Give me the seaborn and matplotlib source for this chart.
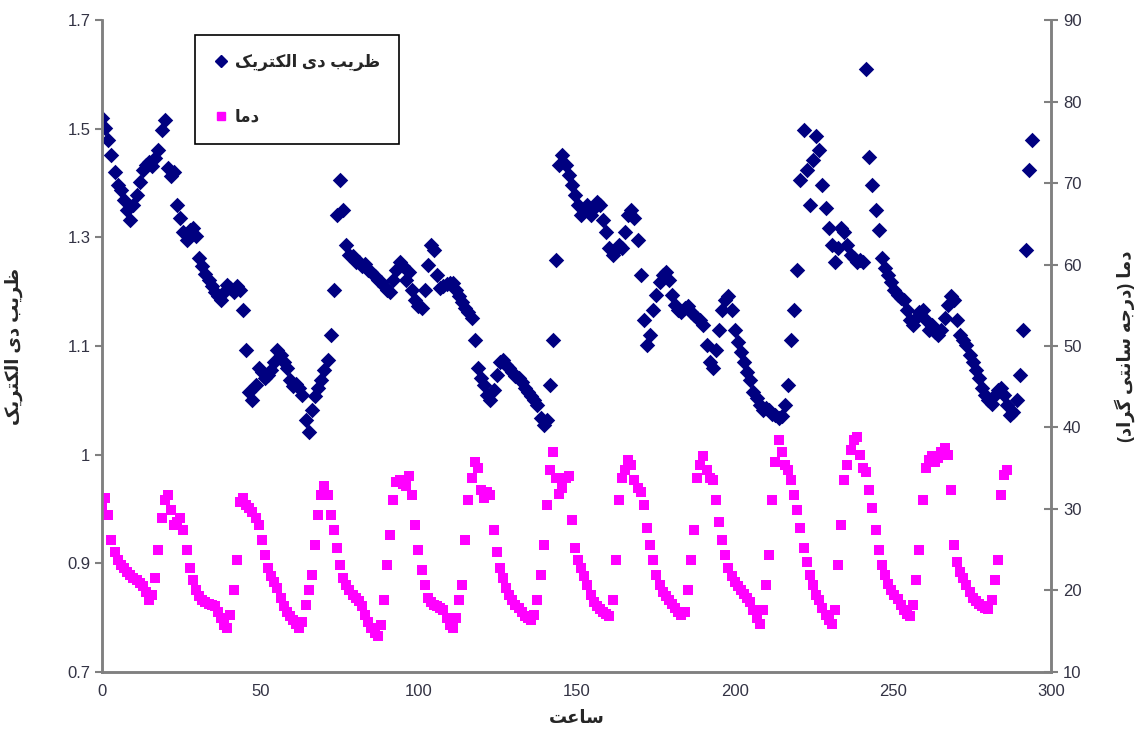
import numpy as np
import pandas as pd
import matplotlib
matplotlib.use('Agg')
import matplotlib.pyplot as plt
from matplotlib.lines import Line2D
import seaborn as sns

# readings taken roughly every hour (0.99 h between samples)
STEP_H = 0.99

# dielectric coefficient, one reading per sample
dielectric = [
    1.550, 1.534, 1.516, 1.493, 1.467, 1.447, 1.439, 1.424, 1.409, 1.393,
    1.416, 1.432, 1.452, 1.470, 1.478, 1.482, 1.476, 1.488, 1.501, 1.531,
    1.547, 1.473, 1.461, 1.467, 1.416, 1.396, 1.375, 1.363, 1.378, 1.381,
    1.369, 1.335, 1.323, 1.310, 1.301, 1.292, 1.283, 1.277, 1.271, 1.283,
    1.294, 1.289, 1.283, 1.292, 1.286, 1.255, 1.194, 1.129, 1.117, 1.140,
    1.166, 1.160, 1.151, 1.156, 1.163, 1.175, 1.194, 1.186, 1.175, 1.166,
    1.148, 1.139, 1.142, 1.136, 1.125, 1.087, 1.068, 1.102, 1.123, 1.136,
    1.148, 1.163, 1.179, 1.217, 1.286, 1.401, 1.455, 1.409, 1.355, 1.340,
    1.338, 1.329, 1.329, 1.323, 1.326, 1.317, 1.314, 1.307, 1.301, 1.298,
    1.292, 1.286, 1.283, 1.301, 1.317, 1.329, 1.323, 1.301, 1.314, 1.286,
    1.271, 1.261, 1.258, 1.286, 1.324, 1.355, 1.347, 1.309, 1.289, 1.292,
    1.295, 1.297, 1.297, 1.286, 1.277, 1.268, 1.258, 1.252, 1.243, 1.209,
    1.166, 1.151, 1.140, 1.125, 1.117, 1.133, 1.156, 1.175, 1.179, 1.171,
    1.166, 1.160, 1.154, 1.151, 1.145, 1.136, 1.129, 1.123, 1.117, 1.110,
    1.090, 1.079, 1.087, 1.140, 1.209, 1.332, 1.478, 1.493, 1.478, 1.462,
    1.447, 1.432, 1.416, 1.401, 1.409, 1.416, 1.401, 1.412, 1.421, 1.416,
    1.393, 1.375, 1.350, 1.340, 1.347, 1.355, 1.350, 1.375, 1.401, 1.409,
    1.396, 1.363, 1.309, 1.240, 1.202, 1.217, 1.255, 1.278, 1.298, 1.309,
    1.314, 1.301, 1.278, 1.263, 1.255, 1.252, 1.258, 1.261, 1.252, 1.248,
    1.243, 1.240, 1.232, 1.202, 1.175, 1.166, 1.194, 1.225, 1.255, 1.271,
    1.277, 1.255, 1.225, 1.206, 1.191, 1.175, 1.160, 1.148, 1.129, 1.120,
    1.110, 1.102, 1.105, 1.102, 1.096, 1.094, 1.090, 1.093, 1.110, 1.140,
    1.209, 1.255, 1.317, 1.455, 1.531, 1.470, 1.416, 1.485, 1.522, 1.501,
    1.447, 1.412, 1.381, 1.355, 1.329, 1.350, 1.381, 1.375, 1.355, 1.340,
    1.335, 1.329, 1.332, 1.329, 1.625, 1.490, 1.447, 1.409, 1.378, 1.335,
    1.320, 1.309, 1.298, 1.286, 1.278, 1.274, 1.271, 1.255, 1.240, 1.232,
    1.243, 1.252, 1.255, 1.240, 1.225, 1.232, 1.222, 1.217, 1.225, 1.243,
    1.263, 1.277, 1.271, 1.240, 1.217, 1.209, 1.202, 1.186, 1.175, 1.163,
    1.151, 1.136, 1.125, 1.117, 1.111, 1.125, 1.133, 1.136, 1.125, 1.110,
    1.094, 1.099, 1.117, 1.156, 1.225, 1.347, 1.470, 1.516,
]

# temperature (deg C), one reading per sample
temperature = [
    30.5, 31.3, 29.3, 26.2, 24.7, 23.7, 23.1, 22.8, 22.3, 21.9,
    21.5, 21.3, 20.9, 20.5, 19.8, 18.8, 19.4, 21.5, 25.0, 28.9,
    31.1, 31.7, 29.9, 28.0, 28.4, 28.9, 27.4, 25.0, 22.8, 21.3,
    20.1, 19.3, 18.8, 18.6, 18.3, 18.2, 18.1, 17.4, 16.6, 15.8,
    15.4, 17.0, 20.1, 23.7, 30.9, 31.3, 30.5, 30.1, 29.6, 28.9,
    28.0, 26.2, 24.4, 22.8, 21.8, 21.0, 20.3, 19.1, 18.1, 17.4,
    16.9, 16.4, 15.9, 15.4, 16.1, 18.2, 20.1, 21.9, 25.6, 29.3,
    31.7, 32.8, 31.7, 29.3, 27.4, 25.2, 23.1, 21.5, 20.7, 20.1,
    19.4, 19.1, 18.7, 18.1, 17.0, 16.1, 15.4, 14.8, 14.4, 15.8,
    18.8, 23.1, 26.8, 31.1, 33.3, 33.5, 33.1, 32.8, 34.0, 31.7,
    28.0, 25.0, 22.5, 20.7, 19.1, 18.6, 18.2, 18.1, 17.8, 17.6,
    16.6, 15.8, 15.4, 16.6, 18.8, 20.7, 26.2, 31.1, 33.8, 35.8,
    35.0, 32.3, 31.3, 32.1, 31.7, 27.4, 24.7, 22.8, 21.5, 20.3,
    19.4, 18.8, 18.2, 17.8, 17.4, 16.9, 16.6, 16.4, 17.0, 18.8,
    21.9, 25.6, 30.5, 34.8, 37.0, 33.8, 31.8, 32.6, 33.8, 34.0,
    28.6, 25.2, 23.7, 22.8, 21.8, 20.7, 19.4, 18.6, 18.1, 17.7,
    17.4, 17.1, 16.9, 18.8, 23.7, 31.1, 33.8, 34.8, 36.0, 35.4,
    33.6, 32.6, 32.1, 30.5, 27.7, 25.6, 23.7, 21.9, 20.7, 19.8,
    19.3, 18.8, 18.3, 17.8, 17.4, 17.0, 17.4, 20.1, 23.7, 27.4,
    33.8, 35.4, 36.5, 34.8, 33.8, 33.6, 31.1, 28.4, 26.2, 24.4,
    22.8, 21.8, 21.0, 20.5, 20.1, 19.6, 19.1, 18.6, 17.6, 16.6,
    15.9, 17.6, 20.7, 24.4, 31.1, 35.8, 38.5, 37.0, 35.4, 34.8,
    33.6, 31.7, 29.9, 27.7, 25.2, 23.5, 21.9, 20.7, 19.4, 18.8,
    17.8, 17.0, 16.4, 15.9, 17.6, 23.1, 28.0, 33.6, 35.4, 37.2,
    38.5, 38.8, 36.6, 35.0, 34.5, 32.3, 30.1, 27.4, 25.0, 23.1,
    21.9, 20.8, 20.1, 19.4, 18.9, 18.2, 17.6, 17.1, 16.9, 18.2,
    21.3, 25.0, 31.1, 35.0, 36.0, 36.5, 35.8, 36.3, 37.0, 37.5,
    36.6, 32.3, 25.6, 23.5, 22.3, 21.5, 20.7, 19.8, 19.1, 18.7,
    18.3, 18.1, 17.8, 17.7, 18.8, 21.3, 23.7, 31.7, 34.2, 34.8,
]

# axis tick labels as printed on the chart
left_ticklabels = ['0.7', '0.9', '1', '1.1', '1.3', '1.5', '1.7']
right_ticks = [10, 20, 30, 40, 50, 60, 70, 80, 90]
x_ticks = [0, 50, 100, 150, 200, 250, 300]

# Persian texts, pre-shaped (presentation forms, visual order)
label_dielectric = '\uFB8F\uFBFE\uFEAE\uFE98\uFB91\uFEDF\uFE8D \uFBFC\uFEA9 \uFE90\uFBFE\uFEAE\uFEC7'
label_temp = '\uFE8E\uFEE3\uFEA9'
label_temp_axis = ('(\uFEA9\uFE8D\uFEAE\uFB94 \uFBFD\uFE98\uFEE7\uFE8E\uFEB3 '
                   '\uFEEA\uFE9F\uFEAD\uFEA9) \uFE8E\uFEE3\uFEA9')
label_hour = '\uFE96\uFECB\uFE8E\uFEB3'

df_d = pd.DataFrame({'hour': np.arange(len(dielectric)) * STEP_H, 'value': dielectric})
df_t = pd.DataFrame({'hour': np.arange(len(temperature)) * STEP_H, 'value': temperature})

sns.set_style('white')
plt.rcParams['font.family'] = ['Liberation Sans', 'DejaVu Sans']

NAVY = '#000080'
MAGENTA = '#FF00FF'
GREY = '#808080'

fig = plt.figure(figsize=(11.48, 7.53), dpi=100)
ax = fig.add_axes([0.0889, 0.1076, 0.8267, 0.8658])
ax2 = ax.twinx()

sns.scatterplot(data=df_d, x='hour', y='value', ax=ax, marker='D', s=62,
                color=NAVY, linewidth=0, legend=False)
sns.scatterplot(data=df_t, x='hour', y='value', ax=ax2, marker='s', s=50,
                color=MAGENTA, linewidth=0, legend=False)

ax.set_xlim(0, 300)
ax.set_ylim(0.7, 1.7)
ax.set_yticks(np.linspace(0.7, 1.7, 7))
ax.set_yticklabels(left_ticklabels)
ax.set_xticks(x_ticks)
ax2.set_ylim(10, 90)
ax2.set_yticks(right_ticks)

for a in (ax, ax2):
    a.spines['top'].set_visible(False)
    for side in ('left', 'right', 'bottom'):
        a.spines[side].set_color(GREY)
        a.spines[side].set_linewidth(1.8)

ax.tick_params(axis='both', direction='out', length=5, width=1.5, color=GREY,
               labelsize=12, labelcolor='#333344')
ax2.tick_params(axis='y', direction='inout', length=10, width=1.5, color=GREY,
                labelsize=12, labelcolor='#333344')

ax.set_xlabel(label_hour, fontsize=13, fontweight='bold', labelpad=8)
ax.set_ylabel(label_dielectric, fontsize=13, fontweight='bold', rotation=90, labelpad=32)
ax2.set_ylabel(label_temp_axis, fontsize=13, fontweight='bold', rotation=90, labelpad=24)

handles = [
    Line2D([], [], marker='D', linestyle='none', color=NAVY, markersize=6),
    Line2D([], [], marker='s', linestyle='none', color=MAGENTA, markersize=6),
]
leg = ax2.legend(handles, [label_dielectric, label_temp],
                 loc='upper left', bbox_to_anchor=(0.098, 0.977), borderaxespad=0,
                 frameon=True, fancybox=False, borderpad=1.15,
                 labelspacing=2.3, handletextpad=0.45, handlelength=0.8,
                 prop={'size': 12, 'weight': 'bold'})
leg.get_frame().set_edgecolor('black')
leg.get_frame().set_linewidth(1.2)
leg.get_frame().set_facecolor('white')
leg.get_frame().set_alpha(1)

fig.savefig('out.png', dpi=100)
